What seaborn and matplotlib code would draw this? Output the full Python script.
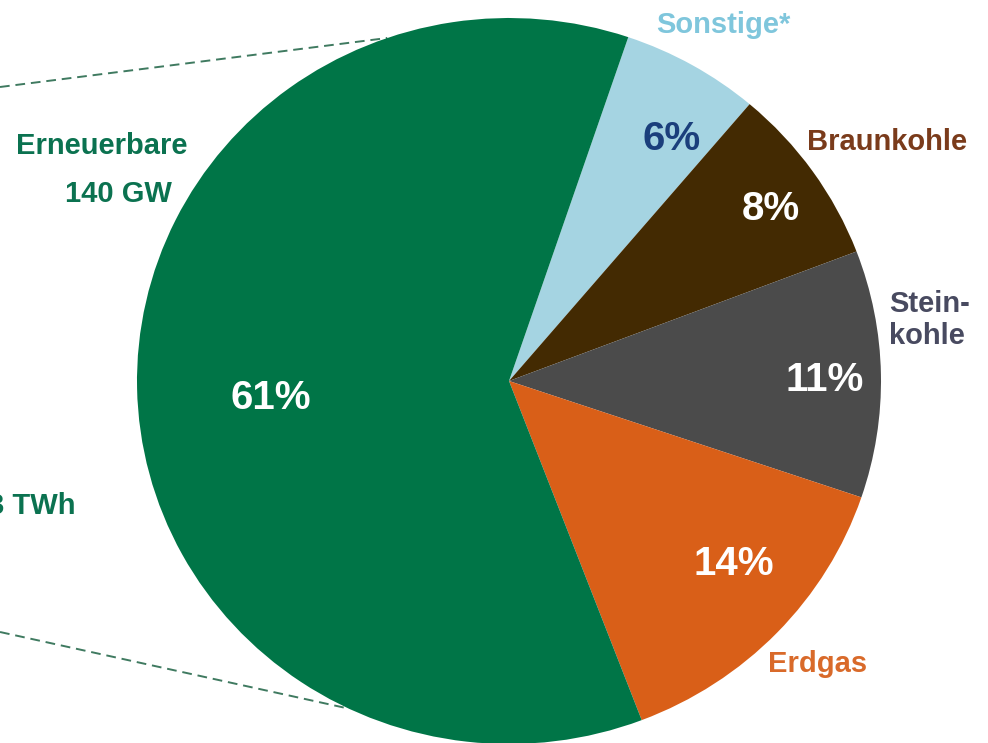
import numpy as np
import matplotlib
matplotlib.use("Agg")
import matplotlib.pyplot as plt
import seaborn as sns

sns.set_theme(style="white")
plt.rcParams['font.family'] = ['Liberation Sans', 'DejaVu Sans']

# Data (clockwise from the top)
categories = ['Sonstige*', 'Braunkohle', 'Steinkohle', 'Erdgas', 'Erneuerbare']
shares = [6, 8, 11, 14, 61]
pct_labels = ['6%', '8%', '11%', '14%', '61%']
slice_colors = ['#a5d4e2', '#432a02', '#4b4b4b', '#d95f18', '#007547']
pct_colors = ['#1b3f7c', 'white', 'white', 'white', 'white']

# Figure geometry (pixels)
W, H = 988, 743
CX, CY = 509, 381      # pie centre
RX, RY = 372, 363      # pie radius in x / y


def px(x, y):
    # pixel position -> data coordinates
    return (x - CX) / RX, (CY - y) / RY


fig = plt.figure(figsize=(W / 100, H / 100), dpi=100)
ax = fig.add_axes([0, 0, 1, 1])

ax.pie(shares, colors=slice_colors, startangle=71.3, counterclock=False,
       radius=1, wedgeprops=dict(linewidth=0))
ax.set_aspect('auto')
x0, y0 = px(0, H)
x1, y1 = px(W, 0)
ax.set_xlim(x0, x1)
ax.set_ylim(y0, y1)
ax.axis('off')

# percentage labels inside the slices
pct_pos = [(672, 139), (771, 209), (825, 380), (734, 564), (271, 398)]
for txt, col, (x, y) in zip(pct_labels, pct_colors, pct_pos):
    ax.text(*px(x, y), txt, color=col, fontsize=29, fontweight='bold',
            ha='center', va='center')

# category labels
lab = dict(fontsize=21, fontweight='bold', va='center')
ax.text(*px(723, 25), 'Sonstige*', color='#7fc6dc', ha='center', **lab)
ax.text(*px(887, 142), 'Braunkohle', color='#7a3b1b', ha='center', **lab)
ax.text(*px(889, 320), 'Stein-\nkohle', color='#484a60', ha='left',
        linespacing=1.15, **lab)
ax.text(*px(818, 664), 'Erdgas', color='#d96a2a', ha='center', **lab)
ax.text(*px(102, 146), 'Erneuerbare', color='#0b7250', ha='center', **lab)
ax.text(*px(172, 194), '140 GW', color='#0b7250', ha='right', **lab)
ax.text(*px(76, 506), '3 TWh', color='#0b7250', ha='right', **lab)

# dashed connector lines from the left edge to the pie
conn_angles = [109.1, 244.5]
conn_left_y = [87, 632]
for ang, ly in zip(conn_angles, conn_left_y):
    ex, ey = np.cos(np.radians(ang)), np.sin(np.radians(ang))
    lx, lyd = px(0, ly)
    ax.plot([lx, ex], [lyd, ey], color='#3f7a60', linestyle=(0, (5, 3)),
            linewidth=1.4, zorder=0)

fig.savefig('out.png', dpi=100)
